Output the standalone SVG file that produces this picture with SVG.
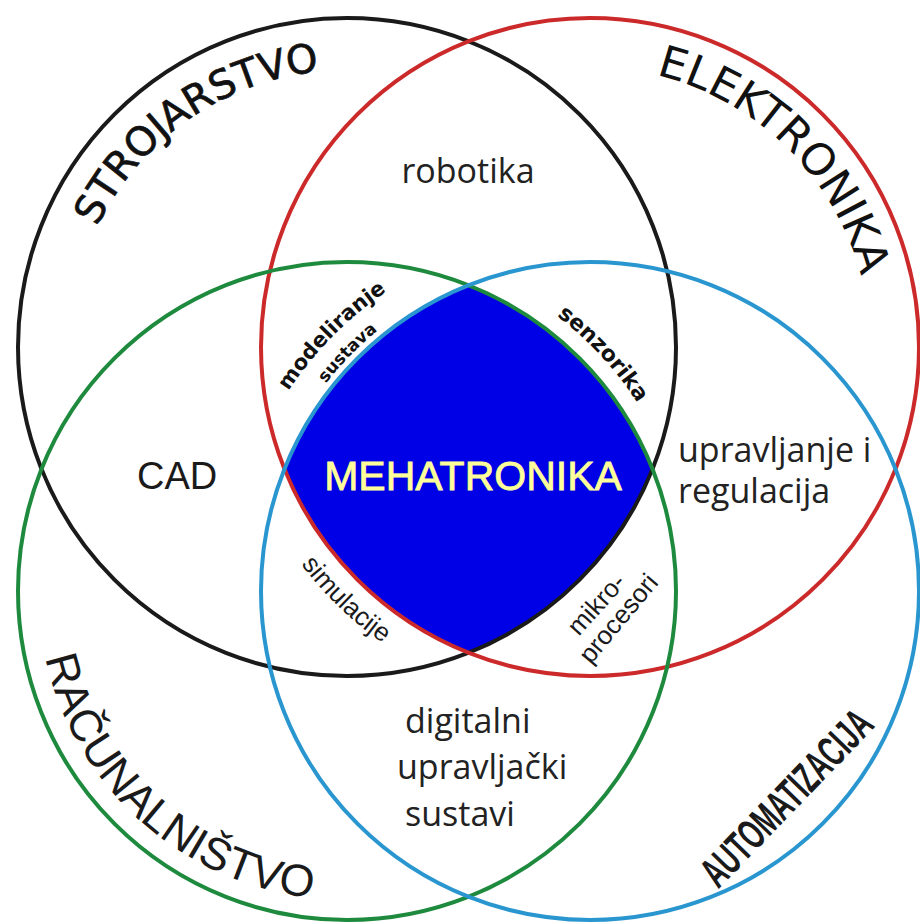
<svg xmlns="http://www.w3.org/2000/svg" width="920" height="924" viewBox="0 0 920 924">
<style>
.ring{fill:none;stroke-width:4}
.big{font-family:"DejaVu Sans",Verdana,sans-serif;fill:#111}
.arial{font-family:"Liberation Sans",Arial,sans-serif;fill:#1a1a1a}
.body{font-family:"Open Sans","Liberation Sans",sans-serif;font-size:34px;fill:#222}
.bold{font-family:"DejaVu Sans",sans-serif;font-weight:bold;fill:#111}
</style>
<defs>
<path id="pStro" d="M 86.7 441.7 A 277 277 0 0 1 525.1 134.8"/>
<path id="pElek" d="M 447.9 105.8 A 280 280 0 0 1 833.7 484.9"/>
<path id="pRacu" d="M 71.7 450.7 A 309 309 0 0 0 515.3 850.2"/>
<path id="pMod" d="M 250.5 716.6 A 362 362 0 0 1 712 250.2"/>
<path id="pSus" d="M 275.3 708.7 A 336 336 0 0 1 702.2 274.3"/>
<path id="pSen" d="M 241.2 261.6 A 346 346 0 0 1 667.4 721.7"/>
<path id="pSim" d="M 248.2 229.3 A 361.5 361.5 0 0 0 719.6 684.5"/>
</defs>
<rect width="920" height="924" fill="#fff"/>
<g id="mehatronika">
<path d="M 284.3 469 A 329 329 0 0 1 468.5 285.3 A 329 329 0 0 1 652.7 469 A 329 329 0 0 1 468.5 652.7 A 329 329 0 0 1 284.3 469 Z" fill="#0000e6"/>
<text x="473" y="490" text-anchor="middle" font-family="Liberation Sans, sans-serif" font-size="41" fill="#ffff9a" stroke="#ffff9a" stroke-width="0.8">MEHATRONIKA</text>
</g>
<g id="circles">
<circle id="strojarstvo-ring" class="ring" cx="347" cy="347" r="329" stroke="#1a1a1a"/>
<circle id="elektronika-ring" class="ring" cx="590" cy="347" r="329" stroke="#cc2a2a"/>
<circle id="racunalnistvo-ring" class="ring" cx="347" cy="591" r="329" stroke="#1e8a3e"/>
<circle id="automatizacija-ring" class="ring" cx="590" cy="591" r="329" stroke="#2a96d0"/>
</g>
<g id="strojarstvo"><text class="big" font-size="40" stroke="#111" stroke-width="0.7"><textPath href="#pStro" startOffset="50%" text-anchor="middle">STROJARSTVO</textPath></text></g>
<g id="elektronika"><text class="big" font-size="44"><textPath href="#pElek" startOffset="50%" text-anchor="middle">ELEKTRONIKA</textPath></text></g>
<g id="racunalnistvo"><text class="arial" font-size="45"><textPath href="#pRacu" startOffset="50%" text-anchor="middle">RAČUNALNIŠTVO</textPath></text></g>
<g id="automatizacija"><text class="arial" font-size="43" font-weight="bold" text-anchor="middle" transform="translate(797,808) rotate(-46) scale(0.6,1)">AUTOMATIZACIJA</text></g>
<g id="robotika"><text class="body" x="468" y="183" text-anchor="middle">robotika</text></g>
<g id="cad"><text class="arial" x="137" y="489" font-size="38" fill="#333">CAD</text></g>
<g id="upravljanje"><text class="body" x="678" y="462">upravljanje i</text><text class="body" x="678" y="503">regulacija</text></g>
<g id="digitalni"><text class="body" x="405" y="733">digitalni</text><text class="body" x="397" y="779">upravljački</text><text class="body" x="405" y="826">sustavi</text></g>
<g id="modeliranje"><text class="bold" font-size="21"><textPath href="#pMod" startOffset="50%" text-anchor="middle">modeliranje</textPath></text>
<text class="bold" font-size="17"><textPath href="#pSus" startOffset="50%" text-anchor="middle">sustava</textPath></text></g>
<g id="senzorika"><text class="bold" font-size="22"><textPath href="#pSen" startOffset="50%" text-anchor="middle">senzorika</textPath></text></g>
<g id="simulacije"><text class="arial" font-size="26"><textPath href="#pSim" startOffset="50%" text-anchor="middle">simulacije</textPath></text></g>
<g id="mikroprocesori"><text class="arial" font-size="26" text-anchor="middle" transform="translate(603,610) rotate(-48)">mikro-</text><text class="arial" font-size="26" text-anchor="middle" transform="translate(625,624) rotate(-50)">procesori</text></g>
</svg>
